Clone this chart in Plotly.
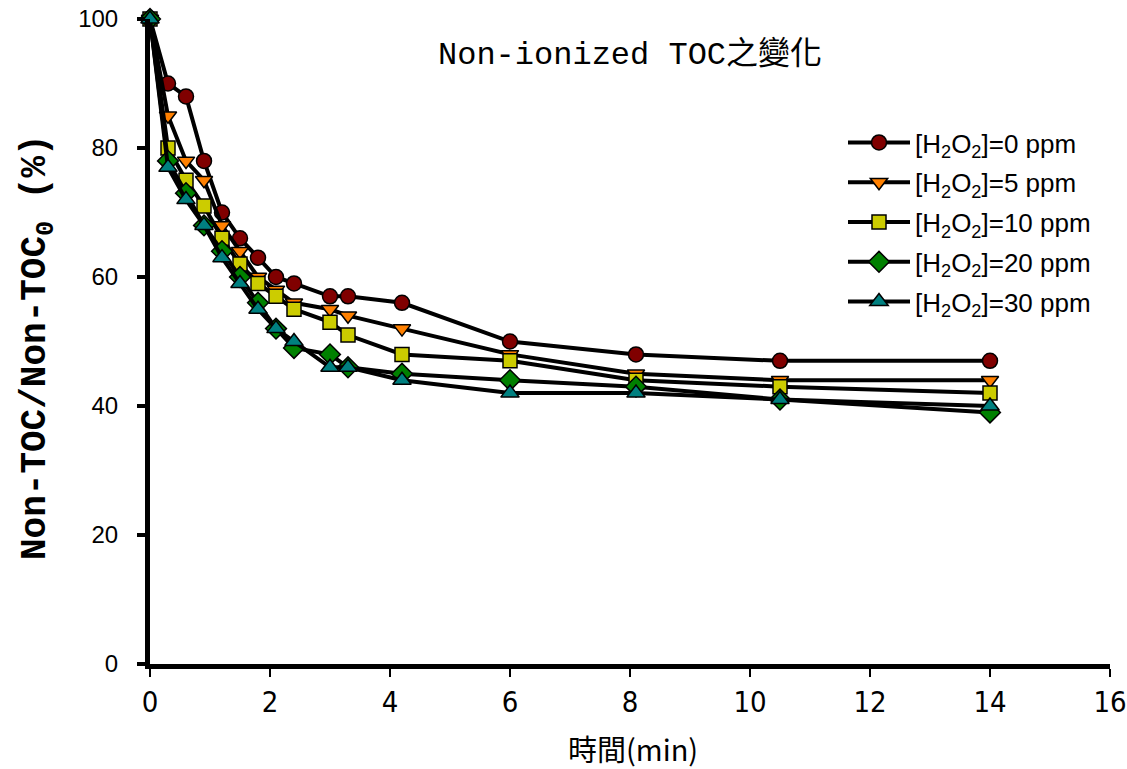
import plotly.graph_objects as go

# Sampling times (min)
time_min = [0, 0.3, 0.6, 0.9, 1.2, 1.5, 1.8, 2.1, 2.4, 3.0, 3.3, 4.2, 6.0, 8.1, 10.5, 14.0]

# Non-ionized TOC remaining (%) for each H2O2 dose
toc_0ppm = [100, 90, 88, 78, 70, 66, 63, 60, 59, 57, 57, 56, 50, 48, 47, 47]
toc_5ppm = [100, 85, 78, 75, 68, 64, 60, 58, 56, 55, 54, 52, 48, 45, 44, 44]
toc_10ppm = [100, 80, 75, 71, 66, 62, 59, 57, 55, 53, 51, 48, 47, 44, 43, 42]
toc_20ppm = [100, 78, 73, 68, 64, 60, 56, 52, 49, 48, 46, 45, 44, 43, 41, 39]
toc_30ppm = [100, 77, 72, 68, 63, 59, 55, 52, 50, 46, 46, 44, 42, 42, 41, 40]

series_names = [
    "[H<sub>2</sub>O<sub>2</sub>]=0 ppm",
    "[H<sub>2</sub>O<sub>2</sub>]=5 ppm",
    "[H<sub>2</sub>O<sub>2</sub>]=10 ppm",
    "[H<sub>2</sub>O<sub>2</sub>]=20 ppm",
    "[H<sub>2</sub>O<sub>2</sub>]=30 ppm",
]
series_values = [toc_0ppm, toc_5ppm, toc_10ppm, toc_20ppm, toc_30ppm]
marker_symbols = ["circle", "triangle-down", "square", "diamond", "triangle-up"]
marker_colors = ["#800000", "#FF8000", "#CCCC00", "#008000", "#008080"]
marker_sizes = [15, 15, 14, 16, 16]

x_ticks = [0, 2, 4, 6, 8, 10, 12, 14, 16]
y_ticks = [0, 20, 40, 60, 80, 100]

# Plot area in pixels (figure is 1127 x 769)
L, R, T, B = 150, 17, 19, 105
PW, PH = 1127 - L - R, 769 - T - B


def px_to_paper(px, py):
    return (px - L) / PW, (769 - B - py) / PH


fig = go.Figure()
for i, (name, vals, sym, col, sz) in enumerate(zip(series_names, series_values, marker_symbols,
                                                    marker_colors, marker_sizes)):
    fig.add_trace(go.Scatter(
        x=time_min, y=vals, name=name, mode="lines+markers",
        legendgroup=f"g{i}",
        line=dict(color="black", width=4),
        marker=dict(symbol=sym, size=sz, color=col,
                    line=dict(color="black", width=1.5)),
        cliponaxis=False,
    ))

lx, ly = px_to_paper(843, 119)
fig.update_layout(
    width=1127, height=769,
    margin=dict(l=L, r=R, t=T, b=B),
    paper_bgcolor="white", plot_bgcolor="white",
    showlegend=True,
    legend=dict(
        x=lx, y=ly, xanchor="left", yanchor="top",
        font=dict(family="Arial, Liberation Sans", size=26, color="black"),
        bgcolor="rgba(0,0,0,0)", itemwidth=62, tracegroupgap=3,
    ),
)

tx, ty = px_to_paper(630, 55)
fig.add_annotation(
    text="Non-ionized TOC之變化", xref="paper", yref="paper",
    x=tx, y=ty, xanchor="center", yanchor="middle", showarrow=False,
    font=dict(family="Liberation Mono, Noto Sans CJK TC", size=32, color="black"),
)
xtx, xty = px_to_paper(633, 748)
fig.add_annotation(
    text="時間(min)", xref="paper", yref="paper",
    x=xtx, y=xty, xanchor="center", yanchor="middle", showarrow=False,
    font=dict(family="Noto Sans CJK TC", size=29, color="black"),
)
ytx, yty = px_to_paper(38, 347)
fig.add_annotation(
    text="<b>Non-TOC/Non-TOC<sub>0</sub> (%)</b>", xref="paper", yref="paper",
    x=ytx, y=yty, xanchor="center", yanchor="middle", showarrow=False,
    textangle=-90,
    font=dict(family="Liberation Mono, Courier New", size=36, color="black"),
)

fig.update_xaxes(
    range=[0, 16], tickvals=x_ticks, ticktext=[str(v) for v in x_ticks],
    showgrid=False, zeroline=False, automargin=False,
    showline=True, linecolor="black", linewidth=5,
    ticks="outside", ticklen=8, tickwidth=1.5, tickcolor="black",
    ticklabelstandoff=0,
    tickfont=dict(family="Liberation Sans Narrow, DejaVu Sans Condensed, Arial",
                  size=29, color="black"),
)
fig.update_yaxes(
    range=[0, 100], tickvals=y_ticks, ticktext=[str(v) for v in y_ticks],
    showgrid=False, zeroline=False, automargin=False,
    showline=True, linecolor="black", linewidth=5,
    ticks="outside", ticklen=8, tickwidth=4, tickcolor="black",
    ticklabelstandoff=14,
    tickfont=dict(family="Arial, Liberation Sans", size=24, color="black"),
)

fig.write_html("out.html")
